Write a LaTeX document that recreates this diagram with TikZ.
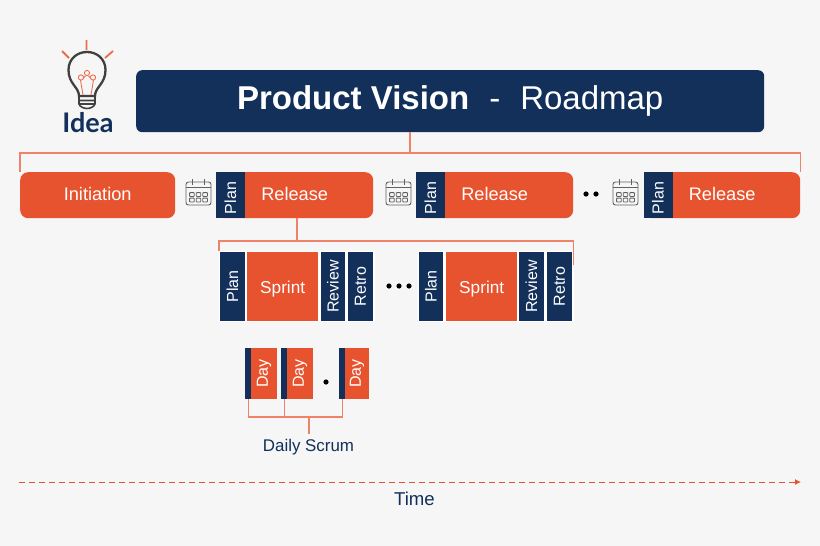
\documentclass[tikz,border=0pt]{standalone}
\usepackage{fontspec}
\setmainfont{Liberation Sans}
\newfontfamily\ideafont{Lato}
\usetikzlibrary{arrows.meta}

\definecolor{navy}{HTML}{12305A}
\definecolor{rust}{HTML}{E8532F}
\definecolor{paper}{HTML}{F6F6F6}
\definecolor{linkcol}{HTML}{EE8369}
\definecolor{calcol}{HTML}{606060}

\newcommand{\fs}[1]{\fontsize{#1}{#1}\selectfont}

\tikzset{
  box/.style={inner sep=0, text=white, anchor=north west},
  bigbox/.style={box, fill=navy, rounded corners=6pt, minimum width=628pt, minimum height=62pt},
  phasebox/.style={box, fill=rust, rounded corners=8pt, minimum height=46pt, text depth=2pt, font=\fs{18.2}},
  planbox/.style={inner sep=0, fill=navy, text=white, rotate=90, minimum width=46pt, minimum height=29pt, font=\fs{16}},
  rowbox/.style={box, fill=white, minimum width=155.5pt, minimum height=71pt},
  navybox/.style={inner sep=0, fill=navy, text=white, rotate=90, minimum width=69pt, minimum height=#1, font=\fs{16}},
  sprintbox/.style={box, fill=rust, minimum width=71pt, minimum height=69pt, text height=18pt, font=\fs{17.2}},
  daybox/.style={inner sep=0, fill=rust, text=white, rotate=90, minimum width=51pt, minimum height=#1, font=\fs{16}},
  stripbox/.style={box, fill=navy, minimum width=6pt, minimum height=51pt},
  blackdot/.style={circle, fill=black, inner sep=0, minimum size=5.2pt},
  link/.style={draw=linkcol, line width=1.1pt},
  calendar/.pic={
    \draw[calcol, line width=0.9pt, rounded corners=2.5pt] (-12.5,-11) rectangle (12.5,12);
    \draw[calcol, line width=0.9pt] (-12.5,-6) -- (12.5,-6) (-6,-14) -- (-6,-8) (6,-14) -- (6,-8);
    \foreach \cx in {-6.6,0,6.6}
      \foreach \cy in {1.5,7}
        \draw[calcol, line width=0.8pt, rounded corners=0.6pt] (\cx-2.3,\cy-1.9) rectangle (\cx+2.3,\cy+1.9);
  }
}

\begin{document}
\begin{tikzpicture}[x=1pt,y=-1pt]
  \useasboundingbox[fill=paper] (0,0) rectangle (820,546);

  % idea bulb
  \draw[rust!85!white, line width=1.8pt] (86.5,40) -- (86.5,50) (62,51) -- (69,58) (113,51) -- (105,58);
  \draw[black!75, line width=2.3pt] (79,96) .. controls (79,87) and (68.5,84) .. (68.5,70)
    .. controls (68.5,59) and (77,52) .. (87,52) .. controls (97,52) and (105.5,59) .. (105.5,70)
    .. controls (105.5,84) and (95,87) .. (95,96) -- cycle;
  \draw[black!75, line width=1.6pt] (79,96) -- (79,104) .. controls (80,107) and (84,108.5) .. (87,108.5)
    .. controls (90,108.5) and (94,107) .. (95,104) -- (95,96) (79,100.5) -- (95,100.5) (79,104) -- (95,104);
  \draw[rust!85!white, line width=0.9pt] (83,95) -- (80.5,80) (91,95) -- (93.5,80)
    (83.5,78) -- (85.5,76) (90.5,78) -- (88.5,76);
  \draw[rust!85!white, line width=0.9pt] (81,77.5) circle[radius=2.6] (87,73) circle[radius=2.6] (93,77.5) circle[radius=2.6];
  \node[inner sep=0, text=navy] (idea) at (88,123) {\ideafont\bfseries\fs{27}Idea};

  % top row
  \node[bigbox, font=\fs{33}] (vision) at (136,70) {\textbf{Product Vision}\hspace{20pt}-\hspace{20pt}Roadmap};
  \node[phasebox, minimum width=155pt] (init) at (20,172) {Initiation};
  \node[phasebox, minimum width=157pt] (rel1) at (216,172) {Release};
  \node[phasebox, minimum width=157pt] (rel2) at (416,172) {Release};
  \node[phasebox, minimum width=156pt] (rel3) at (644,172) {Release};
  \node[planbox] (plan1) at (230.5,195) {Plan\kern6pt};
  \node[planbox] (plan2) at (430.5,195) {Plan\kern6pt};
  \node[planbox] (plan3) at (658,195) {Plan\kern6pt};
  \pic at (198.5,193) {calendar};
  \pic at (398.5,193) {calendar};
  \pic at (625.5,193) {calendar};
  \node[blackdot] (gap1) at (586,194) {};
  \node[blackdot] (gap2) at (596,194) {};

  \coordinate (topbar) at (410,153);
  \draw[link] (vision.south -| topbar) -- (topbar);
  \draw[link] (init.north west) |- (topbar);
  \draw[link] (rel3.north east) |- (topbar);

  % sprint rows
  \node[rowbox] (row1) at (219,251) {};
  \node[rowbox] (row2) at (418,251) {};
  \node[navybox=25pt] (splan1) at (232.5,286.5) {Plan};
  \node[sprintbox] (sprint1) at (247,252) {Sprint};
  \node[navybox=24pt] (review1) at (333,286.5) {Review};
  \node[navybox=25pt] (retro1) at (360.5,286.5) {Retro};
  \node[navybox=24pt] (splan2) at (431,286.5) {Plan};
  \node[sprintbox] (sprint2) at (446,252) {Sprint};
  \node[navybox=25pt] (review2) at (531.5,286.5) {Review};
  \node[navybox=25pt] (retro2) at (559.5,286.5) {Retro};
  \node[blackdot] (more1) at (389,286) {};
  \node[blackdot] (more2) at (399,286) {};
  \node[blackdot] (more3) at (409,286) {};

  \coordinate (sprintbar) at (297,241);
  \draw[link] (rel1.south -| sprintbar) -- (sprintbar);
  \draw[link] (row1.north west) |- (sprintbar);
  \draw[link] ([yshift=-14pt]row2.north east) |- (sprintbar);

  % days
  \node[daybox=26pt] (day1) at (264,373.5) {Day};
  \node[daybox=26pt] (day2) at (300,373.5) {Day};
  \node[daybox=24pt] (day3) at (357,373.5) {Day};
  \node[stripbox] (strip1) at (245,348) {};
  \node[stripbox] (strip2) at (281,348) {};
  \node[stripbox] (strip3) at (339,348) {};
  \node[blackdot] (daygap) at (326,382) {};
  \node[inner sep=0, inner ysep=5pt, text=navy, font=\fs{16.9}] (scrum) at (308.5,447.5) {Daily Scrum};

  \coordinate (daybar) at (309,417);
  \draw[link] (strip1.south) |- (daybar);
  \draw[link] (strip2.south) |- (daybar);
  \draw[link] (strip3.south) |- (daybar);
  \draw[link] (daybar) -- (scrum.north -| daybar);

  % time axis
  \coordinate (timestart) at (19,482);
  \coordinate (timeend) at (801,482);
  \draw[draw=rust, line width=1pt, dash pattern=on 6pt off 4pt, -{Latex[length=6pt,width=6pt]}] (timestart) -- (timeend);
  \node[inner sep=0, text=navy, font=\fs{18.6}] (time) at (414.5,499) {Time};
\end{tikzpicture}
\end{document}
